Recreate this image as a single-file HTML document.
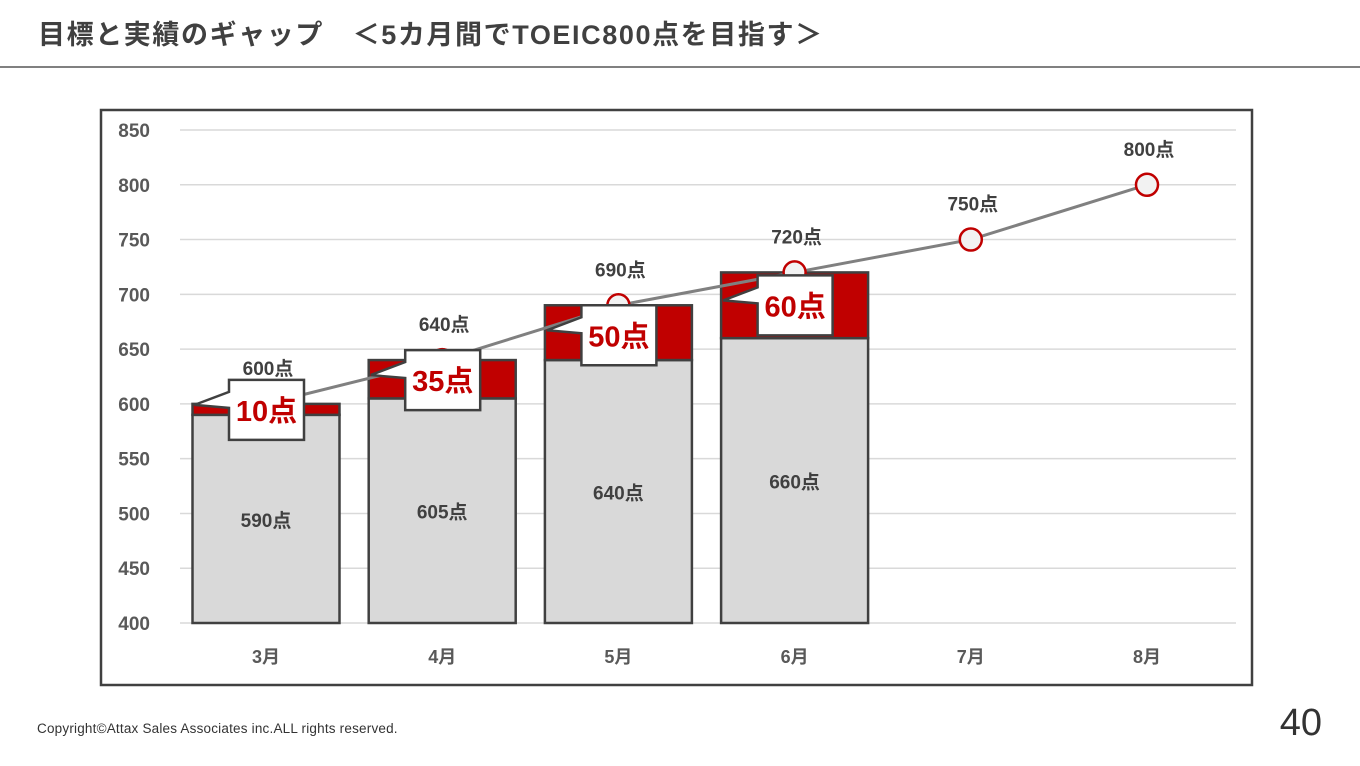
<!DOCTYPE html>
<html><head><meta charset="utf-8"><style>
body{margin:0;width:1360px;height:766px;background:#fff;font-family:"Liberation Sans","Noto Sans CJK JP",sans-serif;position:relative;overflow:hidden}
.t{position:absolute;left:38px;top:13px;font-size:27px;font-weight:bold;color:#404040;white-space:pre;letter-spacing:1.6px}
.hr{position:absolute;left:0;top:66px;width:1360px;height:2px;background:#808080}
.c{position:absolute;left:37px;top:721px;font-size:13.5px;color:#333;letter-spacing:0.2px}
.p{position:absolute;right:38px;top:702px;font-size:38px;color:#333}
</style></head><body>
<div class="t">目標と実績のギャップ　＜5カ月間でTOEIC800点を目指す＞</div>
<div class="hr"></div>
<svg id="ch" width="1360" height="766" style="position:absolute;left:0;top:0"></svg>
<div class="c">Copyright©Attax Sales Associates inc.ALL rights reserved.</div>
<div class="p">40</div>
<script>
const categories=["3月","4月","5月","6月","7月","8月"];
const actual=[590,605,640,660];
const gap=[10,35,50,60];
const target=[600,640,690,720,750,800];
const yTicks=[400,450,500,550,600,650,700,750,800,850];
const NS="http://www.w3.org/2000/svg";
const svg=document.getElementById('ch');
function el(t,a,p){const e=document.createElementNS(NS,t);for(const k in a)e.setAttribute(k,a[k]);(p||svg).appendChild(e);return e;}
const y=v=>623-(v-400)*(493/450);
const x=i=>266+i*176.2;
const BW=147;
const calloutDy=[-24,-10,0,3];
const frame=el('rect',{x:101,y:110,width:1151,height:575,fill:'#fff',stroke:'#404040','stroke-width':2.5});


yTicks.forEach(v=>{
  const g=el('line',{x1:180,x2:1236,y1:y(v),y2:y(v),stroke:'#d9d9d9','stroke-width':1.5});
  
  
  const t=el('text',{x:150,y:y(v)+7,'text-anchor':'end','font-size':19,'font-weight':'bold',fill:'#595959'});
  t.textContent=v;
  
  
});
categories.forEach((c,i)=>{
  const t=el('text',{x:x(i),y:663,'text-anchor':'middle','font-size':18,'font-weight':'bold',fill:'#595959'});
  t.textContent=c;
  
  
});
actual.forEach((v,i)=>{
  const b=el('rect',{x:x(i)-BW/2,y:y(v),width:BW,height:y(400)-y(v),fill:'#d9d9d9',stroke:'#404040','stroke-width':2.5});
  
  
  const r=el('rect',{x:x(i)-BW/2,y:y(v+gap[i]),width:BW,height:y(v)-y(v+gap[i]),fill:'#c00000',stroke:'#404040','stroke-width':2.5});
  
  
  const t=el('text',{x:x(i),y:(y(v)+y(400))/2+8,'text-anchor':'middle','font-size':19,'font-weight':'bold',fill:'#404040'});
  t.textContent=v+'点';
  
  
});
const ln=el('polyline',{points:target.map((v,i)=>x(i)+','+y(v)).join(' '),fill:'none',stroke:'#808080','stroke-width':3});


target.forEach((v,i)=>{
  const m=el('circle',{cx:x(i),cy:y(v),r:11,fill:'#f2f2f2',stroke:'#c00000','stroke-width':2.5});
  
  
  const t=el('text',{x:x(i)+2,y:y(v)-29,'text-anchor':'middle','font-size':19,'font-weight':'bold',fill:'#404040'});
  t.textContent=v+'点';
  
  
});
gap.forEach((g,i)=>{
  const top=y(actual[i]+g);
  const bx=x(i)-37, by=top+calloutDy[i], w=75, h=60;
  const tx=x(i)-BW/2+2, ty=by+25;
  const pts=[[bx,by],[bx+w,by],[bx+w,by+h],[bx,by+h],[bx,by+28],[tx,ty],[bx,by+12]];
  const c=el('polygon',{points:pts.map(p=>p.join(',')).join(' '),fill:'#fff',stroke:'#404040','stroke-width':2.5,'stroke-linejoin':'miter'});
  
  
  const t=el('text',{x:bx+w/2,y:by+h/2+11,'text-anchor':'middle','font-size':29,'font-weight':'bold',fill:'#c00000'});
  t.textContent=g+'点';
  
  
});
</script>
</body></html>
